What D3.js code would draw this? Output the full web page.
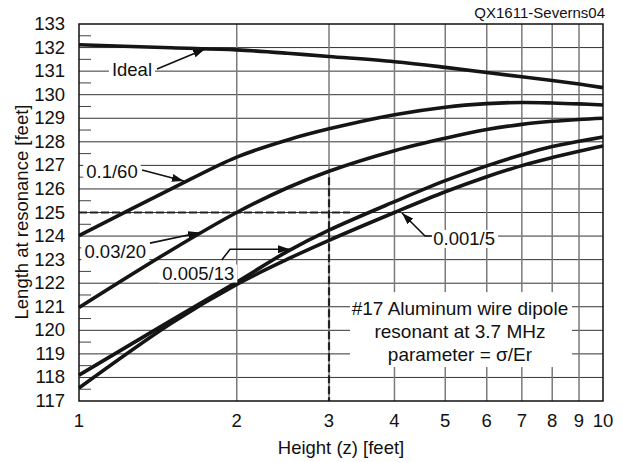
<!DOCTYPE html>
<html>
<head>
<meta charset="utf-8">
<script src="https://cdn.jsdelivr.net/npm/d3@7"></script>
<style>
  body { margin: 0; background: #fff; }
  svg text { font-family: "Liberation Sans", Arial, sans-serif; fill: #111; }
</style>
</head>
<body>
<svg id="chart" width="623" height="462"></svg>
<script>
var heights = [1, 1.5, 2, 2.5, 3, 4, 5, 6, 7, 8, 9, 10];

var ideal     = [132.12, 131.99, 131.9, 131.76, 131.62, 131.4, 131.16, 130.94, 130.76, 130.6, 130.45, 130.3];
var p_01_60   = [124.02, 126.0, 127.35, 128.08, 128.55, 129.15, 129.47, 129.62, 129.67, 129.65, 129.61, 129.56];
var p_003_20  = [120.97, 123.4, 125.0, 126.05, 126.75, 127.62, 128.15, 128.52, 128.74, 128.87, 128.95, 129.0];
var p_0005_13 = [118.1, 120.42, 122.05, 123.35, 124.25, 125.46, 126.35, 126.98, 127.45, 127.8, 128.02, 128.2];
var p_0001_5  = [117.55, 120.3, 121.95, 123.02, 123.82, 125.0, 125.88, 126.52, 126.99, 127.33, 127.6, 127.82];

var xTicks = [1, 2, 3, 4, 5, 6, 7, 8, 9, 10];
var yTicks = d3.range(117, 134);
var yMinor = d3.range(117.5, 133, 1);

var mLeft = 79, mRight = 603, mTop = 24, mBottom = 401;

var x = d3.scaleLog()
  .domain([1, 10])
  .range([mLeft, mRight]);

var y = d3.scaleLinear()
  .domain([117, 133])
  .range([mBottom, mTop]);

var svg = d3.select("#chart");

var defs = svg.append("defs");
defs.append("marker")
  .attr("id", "arrow")
  .attr("viewBox", "0 0 12 8")
  .attr("refX", 12)
  .attr("refY", 4)
  .attr("markerWidth", 12)
  .attr("markerHeight", 8)
  .attr("markerUnits", "userSpaceOnUse")
  .attr("orient", "auto")
  .append("path")
    .attr("d", "M0,0 L12,4 L0,8 Z")
    .attr("fill", "#111");

// grid
svg.append("g").selectAll("line")
  .data(yTicks.slice(1, -1))
  .enter()
  .append("line")
    .attr("x1", mLeft).attr("x2", mRight)
    .attr("y1", function(d) { return y(d); })
    .attr("y2", function(d) { return y(d); })
    .attr("stroke", "#333")
    .attr("stroke-width", 1);

svg.append("g").selectAll("line")
  .data(xTicks.slice(1, -1))
  .enter()
  .append("line")
    .attr("x1", function(d) { return x(d); })
    .attr("x2", function(d) { return x(d); })
    .attr("y1", mTop).attr("y2", mBottom)
    .attr("stroke", "#7a7a7a")
    .attr("stroke-width", 1.5);

svg.append("g").selectAll("line")
  .data(yMinor)
  .enter()
  .append("line")
    .attr("x1", mLeft).attr("x2", mLeft + 12)
    .attr("y1", function(d) { return y(d); })
    .attr("y2", function(d) { return y(d); })
    .attr("stroke", "#444")
    .attr("stroke-width", 1);

// white box behind the note
svg.append("rect")
  .attr("x", x(3.29)).attr("y", y(121.62))
  .attr("width", x(8.73) - x(3.29))
  .attr("height", y(118.44) - y(121.62))
  .attr("fill", "#fff");

// dashed guide lines
svg.append("line")
  .attr("x1", x(1)).attr("x2", x(3.29))
  .attr("y1", y(125)).attr("y2", y(125))
  .attr("stroke", "#222").attr("stroke-width", 2.2)
  .attr("stroke-dasharray", "8,3");
svg.append("line")
  .attr("x1", x(3)).attr("x2", x(3))
  .attr("y1", y(126.5)).attr("y2", y(117))
  .attr("stroke", "#222").attr("stroke-width", 2.2)
  .attr("stroke-dasharray", "8,3");

// curves
var line = d3.line()
  .x(function(d) { return x(d[0]); })
  .y(function(d) { return y(d[1]); })
  .curve(d3.curveCatmullRom.alpha(0.5));

var series = [ideal, p_01_60, p_003_20, p_0005_13, p_0001_5];
svg.append("g").selectAll("path")
  .data(series)
  .enter()
  .append("path")
    .attr("d", function(s) { return line(d3.zip(heights, s)); })
    .attr("fill", "none")
    .attr("stroke", "#151515")
    .attr("stroke-width", 3.6)
    .attr("stroke-linejoin", "round");

// frame
svg.append("rect")
  .attr("x", mLeft).attr("y", mTop)
  .attr("width", mRight - mLeft).attr("height", mBottom - mTop)
  .attr("fill", "none")
  .attr("stroke", "#111")
  .attr("stroke-width", 1.5);

// tick labels
svg.append("g").selectAll("text")
  .data(yTicks)
  .enter()
  .append("text")
    .attr("x", mLeft - 14)
    .attr("y", function(d) { return y(d) + 6; })
    .attr("text-anchor", "end")
    .style("font-size", "18.5px")
    .text(function(d) { return d; });

svg.append("g").selectAll("text")
  .data(xTicks)
  .enter()
  .append("text")
    .attr("x", function(d) { return x(d); })
    .attr("y", 427)
    .attr("text-anchor", "middle")
    .style("font-size", "18.5px")
    .text(function(d) { return d; });

svg.append("text")
  .attr("x", 341).attr("y", 454)
  .attr("text-anchor", "middle")
  .style("font-size", "18.5px")
  .text("Height (z) [feet]");

svg.append("text")
  .attr("transform", "translate(28,212) rotate(-90)")
  .attr("text-anchor", "middle")
  .style("font-size", "18.5px")
  .text("Length at resonance [feet]");

svg.append("text")
  .attr("x", 605).attr("y", 18)
  .attr("text-anchor", "end")
  .style("font-size", "15px")
  .text("QX1611-Severns04");

// curve labels with leaders
function label(txt, cx, cy) {
  var t = svg.append("text")
    .attr("x", x(cx)).attr("y", y(cy) + 6.5)
    .attr("text-anchor", "middle")
    .style("font-size", "18.5px")
    .text(txt);
  var b = t.node().getBBox();
  svg.insert("rect", function() { return t.node(); })
    .attr("x", b.x - 3).attr("y", b.y + 2)
    .attr("width", b.width + 6).attr("height", b.height - 3)
    .attr("fill", "#fff");
}

function leader(pts) {
  svg.append("path")
    .attr("d", d3.line()(pts.map(function(p) { return [x(p[0]), y(p[1])]; })))
    .attr("fill", "none")
    .attr("stroke", "#111")
    .attr("stroke-width", 1.6)
    .attr("marker-end", "url(#arrow)");
}

label("Ideal", 1.262, 131.05);
leader([[1.409, 131.09], [1.74, 131.94]]);

label("0.1/60", 1.156, 126.74);
leader([[1.319, 126.8], [1.585, 126.34]]);

label("0.03/20", 1.173, 123.35);
leader([[1.366, 123.7], [1.702, 124.15]]);

label("0.005/13", 1.689, 122.43);
leader([[1.872, 122.98], [1.942, 123.44], [2.527, 123.44]]);

label("0.001/5", 5.434, 123.9);
leader([[4.718, 124.0], [4.574, 124.0], [4.134, 124.98]]);

// note
var note = ["#17 Aluminum wire dipole", "resonant at 3.7 MHz", "parameter = \u03c3/Er"];
svg.append("g").selectAll("text")
  .data(note)
  .enter()
  .append("text")
    .attr("x", x(5.334))
    .attr("y", function(d, i) { return y(120.65) + i * 23; })
    .attr("text-anchor", "middle")
    .style("font-size", "19px")
    .text(function(d) { return d; });
</script>
</body>
</html>
